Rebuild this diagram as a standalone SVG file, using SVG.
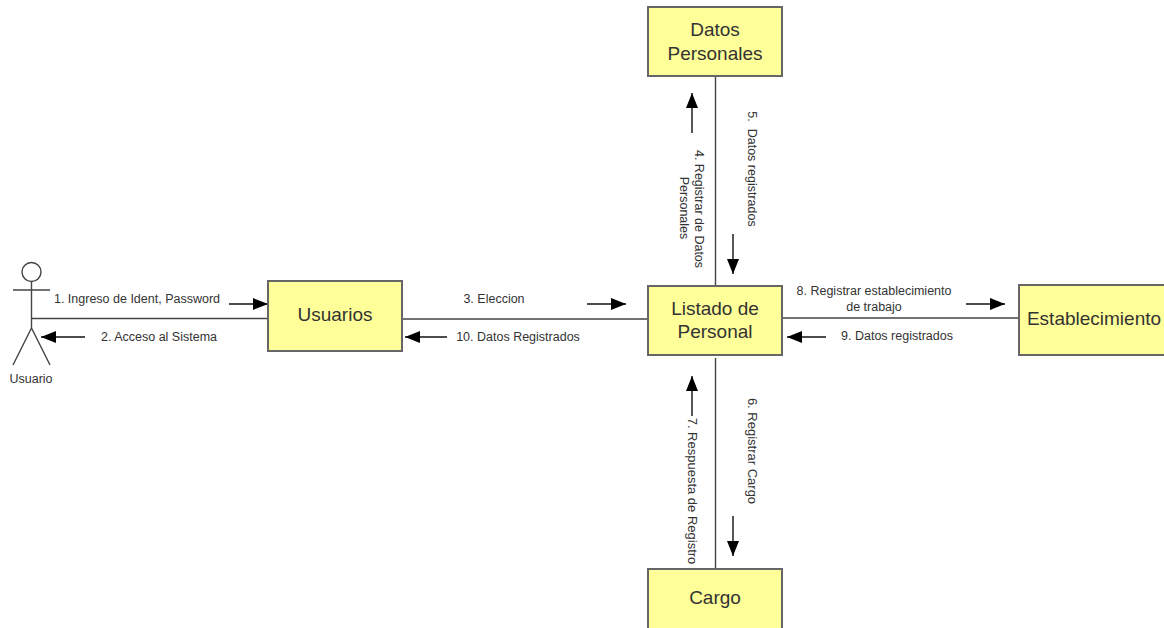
<svg xmlns="http://www.w3.org/2000/svg" width="1164" height="628" viewBox="0 0 1164 628">
<style>
.box{fill:#ffff99;stroke:#666;stroke-width:2}
.ln{stroke:#444;stroke-width:1.4;fill:none}
.ar{stroke:#111;stroke-width:1.4;fill:none;marker-end:url(#tip)}
text{font-family:"Liberation Sans",Arial,sans-serif;fill:#333}
.n{font-size:19px;text-anchor:middle}
.l{font-size:12.500px;text-anchor:middle}
.v{font-size:13px}
</style>
<defs><marker id="tip" markerUnits="userSpaceOnUse" markerWidth="16" markerHeight="12" refX="15" refY="6" orient="auto"><path d="M0 0L15 6L0 12Z" fill="#000"/></marker></defs>
<rect width="1164" height="628" fill="#fff"/>
<g id="connectors">
<path class="ln" d="M31 318.500H268M402 319H648M782 318H1019M715.500 76V286M715.500 358V569"/>
<path class="ar" d="M229 304H268"/>
<path class="ar" d="M85 337H41"/>
<path class="ar" d="M587 304H626"/>
<path class="ar" d="M447 337H405"/>
<path class="ar" d="M966 304H1005"/>
<path class="ar" d="M826 337H787"/>
<path class="ar" d="M692 133V93"/>
<path class="ar" d="M733 234V274"/>
<path class="ar" d="M692 416V376"/>
<path class="ar" d="M733 516V556"/>
<text class="l" x="137" y="303">1. Ingreso de Ident, Password</text>
<text class="l" x="159" y="341">2. Acceso al Sistema</text>
<text class="l" x="494" y="303">3. Eleccion</text>
<text class="l" x="518" y="341">10. Datos Registrados</text>
<text class="l" x="874" y="295">8. Registrar establecimiento</text>
<text class="l" x="874" y="311">de trabajo</text>
<text class="l" x="897" y="340">9. Datos registrados</text>
<text class="l" transform="translate(695 209) rotate(90)">4. Registrar de Datos</text>
<text class="l" transform="translate(680 208) rotate(90)">Personales</text>
<text class="l" transform="translate(748 169) rotate(90)" xml:space="preserve">5.  Datos registrados</text>
<text class="l v" transform="translate(748 451) rotate(90)">6. Registrar Cargo</text>
<text class="l v" transform="translate(688 491) rotate(90)">7. Respuesta de Registro</text>
</g>
<g id="actor-usuario">
<circle cx="31.500" cy="272" r="9.500" fill="#fff" stroke="#444" stroke-width="1.4"/>
<path class="ln" d="M31.500 281.500V328M13 290H50M31.500 328L13 365M31.500 328L50 365"/>
<text class="l" x="31" y="383">Usuario</text>
</g>
<g id="usuarios"><rect class="box" x="268" y="281" width="134" height="70"/><text class="n" x="335" y="321">Usuarios</text></g>
<g id="listado"><rect class="box" x="648" y="286" width="134" height="69"/><text class="n" x="715" y="315">Listado de</text><text class="n" x="715" y="338">Personal</text></g>
<g id="datos"><rect class="box" x="648" y="7" width="134" height="69"/><text class="n" x="715" y="36">Datos</text><text class="n" x="715" y="60">Personales</text></g>
<g id="cargo"><rect class="box" x="648" y="569" width="134" height="70"/><text class="n" x="715" y="604">Cargo</text></g>
<g id="establecimiento"><rect class="box" x="1019" y="285" width="150" height="70"/><text class="n" x="1094" y="325">Establecimiento</text></g>
</svg>
